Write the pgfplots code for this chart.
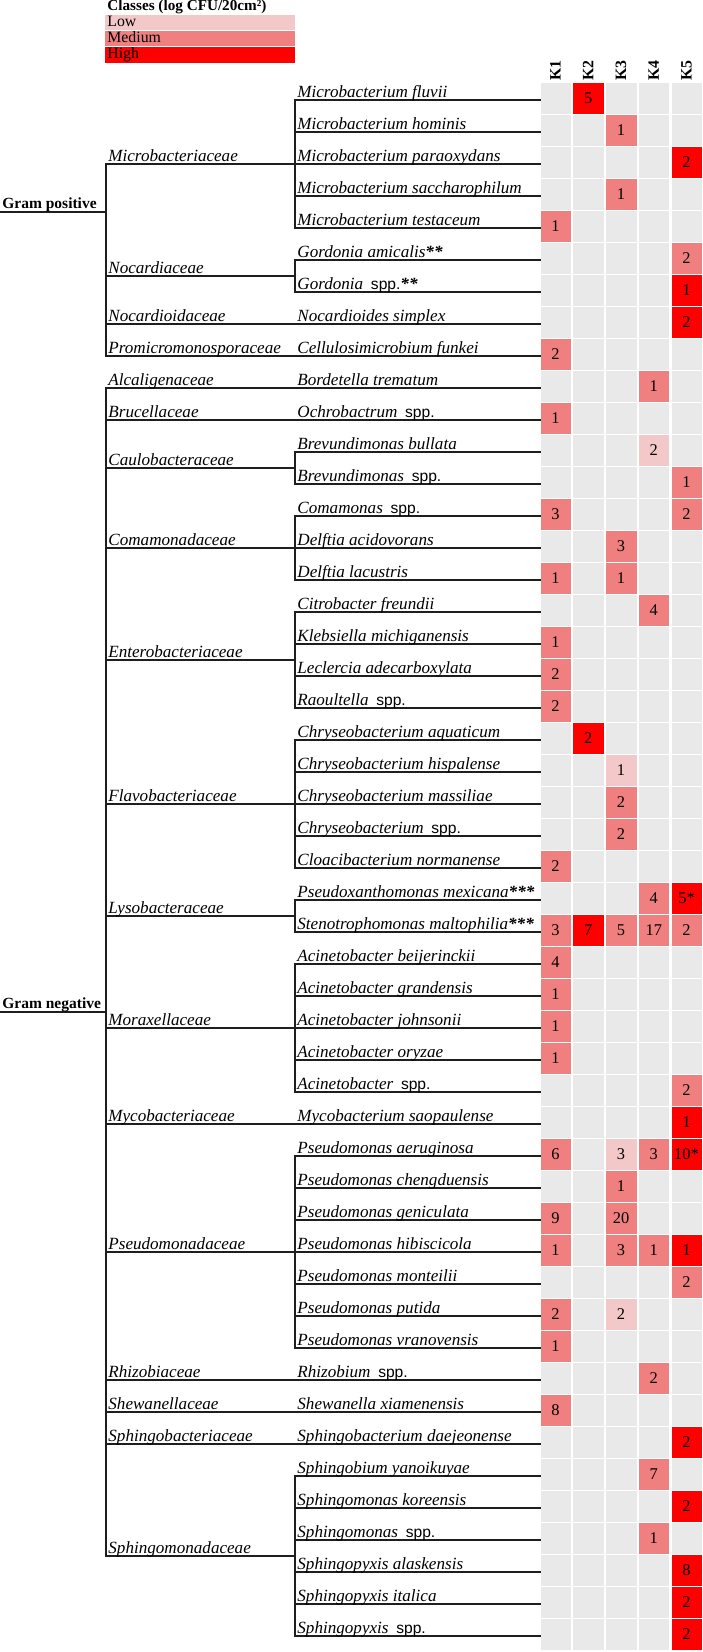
\documentclass[border=0pt]{standalone}
\usepackage{fontspec}
\setmainfont{Liberation Serif}
\newfontfamily\sansf{Liberation Sans}
\usepackage{pgfplots}
\usepackage{pgfplotstable}
\pgfplotsset{compat=1.18}

\definecolor{bgc}{HTML}{E9E9E9}
\definecolor{lowc}{HTML}{F2C8C8}
\definecolor{medc}{HTML}{F08080}
\definecolor{highc}{HTML}{FF0000}
\definecolor{tl}{HTML}{1E1E1E}

\protected\def\spp{\hspace{0.45em}{\upshape\sansf\fontsize{7.8}{9}\selectfont spp.}}

% class codes: 0 none, 1 low, 2 medium, 3 high
\pgfplotstableread{
r c1 c2 c3 c4 c5
1 0 3 0 0 0
2 0 0 2 0 0
3 0 0 0 0 3
4 0 0 2 0 0
5 2 0 0 0 0
6 0 0 0 0 2
7 0 0 0 0 3
8 0 0 0 0 3
9 2 0 0 0 0
10 0 0 0 2 0
11 2 0 0 0 0
12 0 0 0 1 0
13 0 0 0 0 2
14 2 0 0 0 2
15 0 0 2 0 0
16 2 0 2 0 0
17 0 0 0 2 0
18 2 0 0 0 0
19 2 0 0 0 0
20 2 0 0 0 0
21 0 3 0 0 0
22 0 0 1 0 0
23 0 0 2 0 0
24 0 0 2 0 0
25 2 0 0 0 0
26 0 0 0 2 3
27 2 3 2 2 2
28 2 0 0 0 0
29 2 0 0 0 0
30 2 0 0 0 0
31 2 0 0 0 0
32 0 0 0 0 2
33 0 0 0 0 3
34 2 0 1 2 3
35 0 0 2 0 0
36 2 0 2 0 0
37 2 0 2 2 3
38 0 0 0 0 2
39 2 0 1 0 0
40 2 0 0 0 0
41 0 0 0 2 0
42 2 0 0 0 0
43 0 0 0 0 3
44 0 0 0 2 0
45 0 0 0 0 3
46 0 0 0 2 0
47 0 0 0 0 3
48 0 0 0 0 3
49 0 0 0 0 3
}\classes

\pgfplotstableread{
col r lab
2 1 5
3 2 1
5 3 2
3 4 1
1 5 1
5 6 2
5 7 1
5 8 2
1 9 2
4 10 1
1 11 1
4 12 2
5 13 1
1 14 3
5 14 2
3 15 3
1 16 1
3 16 1
4 17 4
1 18 1
1 19 2
1 20 2
2 21 2
3 22 1
3 23 2
3 24 2
1 25 2
4 26 4
5 26 5*
1 27 3
2 27 7
3 27 5
4 27 17
5 27 2
1 28 4
1 29 1
1 30 1
1 31 1
5 32 2
5 33 1
1 34 6
3 34 3
4 34 3
5 34 10*
3 35 1
1 36 9
3 36 20
1 37 1
3 37 3
4 37 1
5 37 1
5 38 2
1 39 2
3 39 2
1 40 1
4 41 2
1 42 8
5 43 2
4 44 7
5 45 2
4 46 1
5 47 8
5 48 2
5 49 2
}\labels

\tikzset{
  spn/.style={anchor=base west, inner sep=0pt, yshift=1.35pt, font=\fontsize{8.55}{10}\selectfont\itshape},
  fam/.style={anchor=base west, inner sep=0pt, yshift=1.35pt, font=\fontsize{8.55}{10}\selectfont\itshape},
  grm/.style={anchor=base west, inner sep=0pt, yshift=1.6pt, font=\fontsize{7.75}{9}\selectfont\bfseries},
}
\newcommand\SP[2]{\node[spn] at (axis cs:297,#1) {#2};}
\newcommand\FM[2]{\node[fam] at (axis cs:108,#1) {#2};}

\begin{document}
\begin{tikzpicture}
\begin{axis}[
  scale only axis, width=351pt, height=826pt,
  xmin=0, xmax=702, ymin=-2.125, ymax=49.5, y dir=reverse,
  hide axis, clip=false,
  tree/.style={color=tl, line width=0.85pt, line cap=rect, mark=none, forget plot},
]
\coordinate (BBa) at (rel axis cs:0,0);
\coordinate (BBb) at (rel axis cs:1,1);

% ---- heat map cells
\pgfplotsinvokeforeach{1,2,3,4,5}{
\addplot[scatter, only marks, mark=square*, mark size=7.4pt,
  mark options={line width=0.2pt},
  scatter src=explicit symbolic,
  scatter/classes={
    0={mark=square*, bgc},
    1={mark=square*, lowc},
    2={mark=square*, medc},
    3={mark=square*, highc}},
  forget plot]
  table[x expr=522.75+32.75*#1, y expr=\thisrow{r}-0.05, meta=c#1] {\classes};
}
\addplot[draw=none, mark=none, forget plot,
  point meta=explicit symbolic, nodes near coords,
  nodes near coords style={anchor=center, inner sep=0pt, text=black,
    font=\fontsize{8.2}{9}\selectfont}]
  table[x expr=522.75+32.75*\thisrow{col}, y expr=\thisrow{r}-0.05, meta=lab] {\labels};

% ---- tree: species lines
\pgfplotsinvokeforeach{1,...,7,12,13,...,32,34,35,...,40,44,45,...,49}{
  \addplot[tree] coordinates {(295,#1) (540,#1)};
}
\pgfplotsinvokeforeach{8,9,10,11,33,41,42,43}{
  \addplot[tree] coordinates {(106,#1) (540,#1)};
}
% family lines
\pgfplotsinvokeforeach{3,6.5,12.5,15,18.5,23,26.5,30,37,46.5}{
  \addplot[tree] coordinates {(106,#1) (295,#1)};
}
% gram lines
\pgfplotsinvokeforeach{4.5,29.5}{
  \addplot[tree] coordinates {(0,#1) (106,#1)};
}
% vertical brackets
\foreach \ya/\yb in {1/5,6/7,12/13,14/16,17/20,21/25,26/27,28/32,34/40,44/49}{
  \edef\tmp{\noexpand\addplot[tree] coordinates {(295,\ya) (295,\yb)};}\tmp
}
\foreach \ya/\yb in {3/9,10/46.5}{
  \edef\tmp{\noexpand\addplot[tree] coordinates {(106,\ya) (106,\yb)};}\tmp
}

% ---- legend
\fill[lowc] (axis cs:105,-1.656) rectangle (axis cs:295,-1.1875);
\fill[medc] (axis cs:105,-1.156) rectangle (axis cs:295,-0.6875);
\fill[highc] (axis cs:105,-0.656) rectangle (axis cs:295,-0.156);
\node[anchor=base west, inner sep=0pt, font=\fontsize{7.6}{9}\selectfont\bfseries] at (axis cs:107,-1.8125) {Classes (log CFU/20cm²)};
\node[anchor=base west, inner sep=0pt, font=\fontsize{7.9}{9}\selectfont] at (axis cs:107,-1.29) {Low};
\node[anchor=base west, inner sep=0pt, font=\fontsize{7.9}{9}\selectfont] at (axis cs:107,-0.79) {Medium};
\node[anchor=base west, inner sep=0pt, font=\fontsize{7.9}{9}\selectfont] at (axis cs:107,-0.29) {High};

% ---- column headers
\node[rotate=90, anchor=west, inner sep=0pt, font=\fontsize{7.9}{9}\selectfont\bfseries] at (axis cs:555.5,0.406) {K1};
\node[rotate=90, anchor=west, inner sep=0pt, font=\fontsize{7.9}{9}\selectfont\bfseries] at (axis cs:588.25,0.406) {K2};
\node[rotate=90, anchor=west, inner sep=0pt, font=\fontsize{7.9}{9}\selectfont\bfseries] at (axis cs:621,0.406) {K3};
\node[rotate=90, anchor=west, inner sep=0pt, font=\fontsize{7.9}{9}\selectfont\bfseries] at (axis cs:653.75,0.406) {K4};
\node[rotate=90, anchor=west, inner sep=0pt, font=\fontsize{7.9}{9}\selectfont\bfseries] at (axis cs:686.5,0.406) {K5};

% ---- gram labels
\node[grm] at (axis cs:2,4.5) {Gram positive};
\node[grm] at (axis cs:2,29.5) {Gram negative};

% ---- family labels
\FM{3}{Microbacteriaceae}
\FM{6.5}{Nocardiaceae}
\FM{8}{Nocardioidaceae}
\FM{9}{Promicromonosporaceae}
\FM{10}{Alcaligenaceae}
\FM{11}{Brucellaceae}
\FM{12.5}{Caulobacteraceae}
\FM{15}{Comamonadaceae}
\FM{18.5}{Enterobacteriaceae}
\FM{23}{Flavobacteriaceae}
\FM{26.5}{Lysobacteraceae}
\FM{30}{Moraxellaceae}
\FM{33}{Mycobacteriaceae}
\FM{37}{Pseudomonadaceae}
\FM{41}{Rhizobiaceae}
\FM{42}{Shewanellaceae}
\FM{43}{Sphingobacteriaceae}
\FM{46.5}{Sphingomonadaceae}

% ---- species labels
\SP{1}{Microbacterium fluvii}
\SP{2}{Microbacterium hominis}
\SP{3}{Microbacterium paraoxydans}
\SP{4}{Microbacterium saccharophilum}
\SP{5}{Microbacterium testaceum}
\SP{6}{Gordonia amicalis\textbf{**}}
\SP{7}{Gordonia\spp\textbf{**}}
\SP{8}{Nocardioides simplex}
\SP{9}{Cellulosimicrobium funkei}
\SP{10}{Bordetella trematum}
\SP{11}{Ochrobactrum\spp}
\SP{12}{Brevundimonas bullata}
\SP{13}{Brevundimonas\spp}
\SP{14}{Comamonas\spp}
\SP{15}{Delftia acidovorans}
\SP{16}{Delftia lacustris}
\SP{17}{Citrobacter freundii}
\SP{18}{Klebsiella michiganensis}
\SP{19}{Leclercia adecarboxylata}
\SP{20}{Raoultella\spp}
\SP{21}{Chryseobacterium aquaticum}
\SP{22}{Chryseobacterium hispalense}
\SP{23}{Chryseobacterium massiliae}
\SP{24}{Chryseobacterium\spp}
\SP{25}{Cloacibacterium normanense}
\SP{26}{Pseudoxanthomonas mexicana\textbf{***}}
\SP{27}{Stenotrophomonas maltophilia\textbf{***}}
\SP{28}{Acinetobacter beijerinckii}
\SP{29}{Acinetobacter grandensis}
\SP{30}{Acinetobacter johnsonii}
\SP{31}{Acinetobacter oryzae}
\SP{32}{Acinetobacter\spp}
\SP{33}{Mycobacterium saopaulense}
\SP{34}{Pseudomonas aeruginosa}
\SP{35}{Pseudomonas chengduensis}
\SP{36}{Pseudomonas geniculata}
\SP{37}{Pseudomonas hibiscicola}
\SP{38}{Pseudomonas monteilii}
\SP{39}{Pseudomonas putida}
\SP{40}{Pseudomonas vranovensis}
\SP{41}{Rhizobium\spp}
\SP{42}{Shewanella xiamenensis}
\SP{43}{Sphingobacterium daejeonense}
\SP{44}{Sphingobium yanoikuyae}
\SP{45}{Sphingomonas koreensis}
\SP{46}{Sphingomonas\spp}
\SP{47}{Sphingopyxis alaskensis}
\SP{48}{Sphingopyxis italica}
\SP{49}{Sphingopyxis\spp}
\end{axis}
\pgfresetboundingbox
\useasboundingbox (BBa) rectangle (BBb);
\end{tikzpicture}
\end{document}
